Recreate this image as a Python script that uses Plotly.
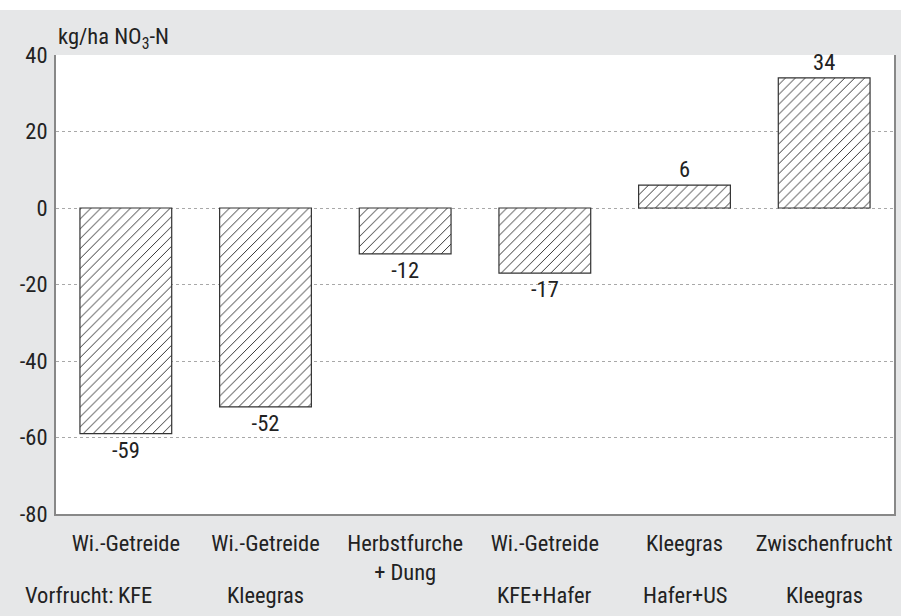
import plotly.graph_objects as go

categories = ["Wi.-Getreide", "Wi.-Getreide", "Herbstfurche<br>+ Dung", "Wi.-Getreide", "Kleegras", "Zwischenfrucht"]
vorfrucht = ["KFE", "Kleegras", "", "KFE+Hafer", "Hafer+US", "Kleegras"]
values = [-59, -52, -12, -17, 6, 34]
y_ticks = [-80, -60, -40, -20, 0, 20, 40]

FONT = "Liberation Sans Narrow, Roboto Condensed, Arial Narrow, DejaVu Sans Condensed, sans-serif"
FS = 22.5
TXT = "#222222"
BG = "#e6e7e8"

x = list(range(len(values)))

fig = go.Figure()
fig.add_trace(go.Bar(
    x=x, y=values,
    width=0.657,
    marker=dict(
        color="white",
        line=dict(color="#333333", width=1.2),
        pattern=dict(shape="/", size=7, solidity=0.14, fgcolor="#333333", bgcolor="white", fillmode="replace"),
    ),
    text=[str(v) for v in values],
    textposition="outside",
    textfont=dict(family=FONT, size=FS, color=TXT),
    cliponaxis=False,
    hoverinfo="skip",
))

fig.update_layout(
    width=901, height=616,
    margin=dict(l=56, r=5, t=55, b=102),
    paper_bgcolor=BG,
    plot_bgcolor="white",
    showlegend=False,
    font=dict(family=FONT, size=FS, color=TXT),
)
fig.update_xaxes(
    range=[-0.5, 5.5],
    tickmode="array", tickvals=x, ticktext=categories,
    showgrid=False, zeroline=False,
    showline=True, linecolor="#888888", linewidth=2,
    ticks="", ticklabelstandoff=8,
    tickfont=dict(family=FONT, size=FS, color=TXT),
)
fig.update_yaxes(
    range=[-80, 40],
    tickmode="array", tickvals=y_ticks, ticktext=[str(t) for t in y_ticks],
    showgrid=True, gridcolor="#a8a8a8", gridwidth=1, griddash="dot",
    zeroline=False,
    showline=True, mirror=True, linecolor="#888888", linewidth=2,
    ticks="", ticklabelstandoff=2,
    tickfont=dict(family=FONT, size=FS, color=TXT),
)

# white top strip
fig.add_shape(type="rect", xref="paper", yref="paper", x0=-0.1, x1=1.1, y0=1.098, y1=1.2,
              fillcolor="white", line=dict(width=0), layer="above")

# unit label
fig.add_annotation(xref="paper", yref="paper", x=0, y=1.0, xanchor="left", yanchor="bottom",
                   yshift=0, text="kg/ha NO<sub>3</sub>-N", showarrow=False,
                   font=dict(family=FONT, size=FS, color=TXT))

# Vorfrucht row
fig.add_annotation(xref="paper", yref="paper", x=-0.0397, y=0, xanchor="left", yanchor="middle",
                   yshift=-81, text="Vorfrucht:", showarrow=False,
                   font=dict(family=FONT, size=FS, color=TXT))
for i, lab in enumerate(vorfrucht):
    if not lab:
        continue
    fig.add_annotation(xref="x", yref="paper", x=i, y=0, xanchor="center", yanchor="middle",
                       yshift=-81, xshift=9 if i == 0 else 0, text=lab, showarrow=False,
                       font=dict(family=FONT, size=FS, color=TXT))

fig.write_html("out.html", config={"displayModeBar": False},
               post_script="document.body.style.margin='0';document.body.style.padding='0';")
